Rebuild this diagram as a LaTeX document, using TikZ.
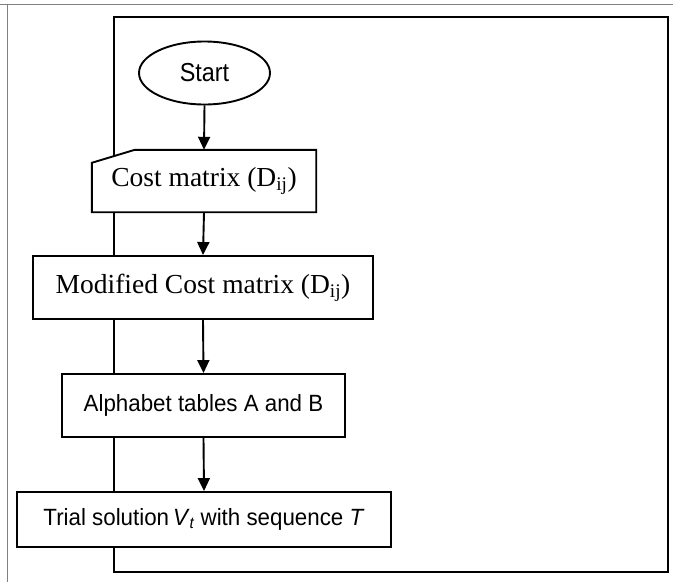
\documentclass[tikz,border=0pt]{standalone}
\usepackage{fontspec}
\setmainfont{Liberation Serif}
\newfontfamily\arialA[FakeStretch=0.9]{Liberation Sans}
\newfontfamily\arialB[FakeStretch=0.95]{Liberation Sans}
\usetikzlibrary{arrows.meta,calc,shapes.geometric}
\tikzset{
  boxline/.style={line width=1.9pt},
  procbox/.style={draw, boxline, fill=white, rectangle, inner sep=0pt},
  serifbox/.style={font=\fontsize{27.5}{30}\selectfont},
  sansbox/.style={font=\arialB\fontsize{23.5}{26}\selectfont},
  startnode/.style={draw, boxline, fill=white, ellipse, inner sep=0pt,
     minimum width=131pt, minimum height=63pt, font=\arialA\fontsize{26}{28}\selectfont},
  arr/.style={line width=1.9pt, -{Triangle[width=12pt,length=13pt]}},
  frameline/.style={draw=gray, line width=1pt}
}
\begin{document}
\begin{tikzpicture}[x=1pt,y=-1pt]
\useasboundingbox (0,0) rectangle (673,582);
% page frame
\draw[frameline] (0,4.5) -- (673,4.5);
\draw[frameline] (7,4.5) -- (7,582);
% loop rectangle behind
\coordinate (lt) at (114,17);
\coordinate (rb) at (668,572);
\draw[boxline] (lt) rectangle (rb);
% nodes
\node[startnode] (start) at (204.5,73) {Start};
\node[rectangle, inner sep=0pt, minimum width=224pt, minimum height=62pt, serifbox] (cost) at (204,181) {};
\filldraw[boxline, fill=white] ($(cost.north west)+(0,13)$) -- ($(cost.north west)+(43,0)$) -- (cost.north east) -- (cost.south east) -- (cost.south west) -- cycle;
\node[serifbox] (costtext) at (cost.center) {Cost matrix (D\textsubscript{ij})};
\node[procbox, serifbox, minimum width=340pt, minimum height=63pt] (mod) at (203,287.5) {Modified Cost matrix (D\textsubscript{ij})};
\node[procbox, sansbox, minimum width=283pt, minimum height=63pt] (alpha) at (203.5,405.5) {Alphabet tables A and B};
\node[procbox, sansbox, minimum width=374pt, minimum height=55pt] (trial) at (204,519.5) {Trial solution\,\textit{V}\raisebox{-0.12em}{\fontsize{16}{18}\selectfont\textit{t}} with sequence \textit{T}};
% arrows
\draw[arr] (start.south) -- (cost.north);
\draw[arr] (cost.south) -- (mod.north);
\draw[arr] (mod.south) -- (alpha.north);
\draw[arr] (alpha.south) -- (trial.north);
\end{tikzpicture}
\end{document}
